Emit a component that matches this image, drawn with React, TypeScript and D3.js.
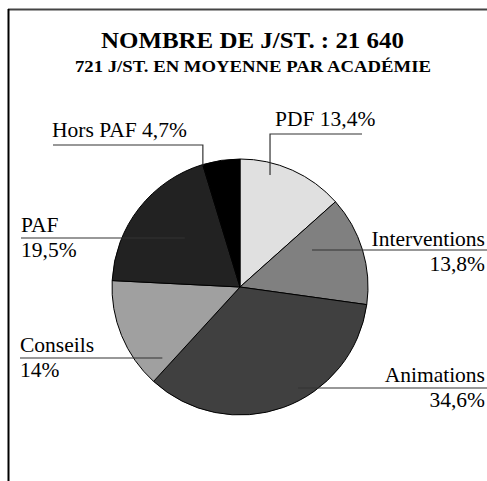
import React from 'react';
import * as d3 from 'd3';

const categories = ['PDF', 'Interventions', 'Animations', 'Conseils', 'PAF', 'Hors PAF'];
const values = [13.4, 13.8, 34.6, 14, 19.5, 4.7];
const valueLabels = ['13,4%', '13,8%', '34,6%', '14%', '19,5%', '4,7%'];
const colors = ['#e0e0e0', '#808080', '#404040', '#a0a0a0', '#222222', '#000000'];

const title = 'NOMBRE DE J/ST. : 21 640';
const subtitle = '721 J/ST. EN MOYENNE PAR ACADÉMIE';

const W = 487;
const H = 481;
const cx = 240;
const cy = 287;
const R = 128;
const FONT = 'Times New Roman, Liberation Serif, serif';
const LABEL_SIZE = 21.5;

// label layout: anchor inside the slice (polar, deg from north / radius), then text placement
type Lab = { ang: number; r: number; kind: 'up' | 'left' | 'right'; tx: number; ty: number; ly: number; lx?: number };
const layout: Lab[] = [
  { ang: 15, r: 116, kind: 'up', tx: 275, ty: 126, ly: 134, lx: 362 },
  { ang: 62.8, r: 81, kind: 'right', tx: 485, ty: 246, ly: 250 },
  { ang: 150, r: 116, kind: 'right', tx: 485, ty: 382, ly: 388 },
  { ang: 227.7, r: 105, kind: 'left', tx: 20, ty: 352, ly: 358 },
  { ang: 311.7, r: 74, kind: 'left', tx: 21, ty: 232, ly: 238 },
  { ang: 343, r: 127, kind: 'up', tx: 52, ty: 137, ly: 145, lx: 53 },
];

export default function App() {
  const pie = d3.pie<number>().sort(null).value(d => d)(values);
  const arc = d3.arc<d3.PieArcDatum<number>>().innerRadius(0).outerRadius(R);
  const txt = { fontFamily: FONT };

  return (
    <svg width={W} height={H} style={{ position: 'absolute', left: 0, top: 0, background: '#fff', fontFamily: FONT }}>
      {/* frame */}
      <line x1={8} y1={9.5} x2={W} y2={9.5} stroke="#444" strokeWidth={2} />
      <line x1={8.5} y1={9} x2={8.5} y2={H} stroke="#000" strokeWidth={2} />

      <text x={252.5} y={48} textAnchor="middle" style={txt} fontWeight="bold" fontSize={23}
        textLength={303} lengthAdjust="spacingAndGlyphs">{title}</text>
      <text x={253} y={72} textAnchor="middle" style={txt} fontWeight="bold" fontSize={17}
        textLength={356} lengthAdjust="spacingAndGlyphs">{subtitle}</text>

      <g transform={`translate(${cx},${cy})`}>
        {pie.map((p, i) => (
          <path key={i} d={arc(p) || ''} fill={colors[i]} stroke="#000" strokeWidth={1} />
        ))}
      </g>

      {layout.map((l, i) => {
        const a = (l.ang * Math.PI) / 180;
        const ax = cx + Math.sin(a) * l.r;
        const ay = cy - Math.cos(a) * l.r;
        if (l.kind === 'up') {
          return (
            <g key={i}>
              <polyline points={`${ax},${ay} ${ax},${l.ly} ${l.lx},${l.ly}`} fill="none" stroke="#333" strokeWidth={1.2} />
              <text x={l.tx} y={l.ty} style={txt} fontSize={LABEL_SIZE}>{`${categories[i]} ${valueLabels[i]}`}</text>
            </g>
          );
        }
        const end = l.kind === 'left' ? l.tx : W;
        const anchor = l.kind === 'left' ? 'start' : 'end';
        return (
          <g key={i}>
            <line x1={ax} y1={l.ly} x2={end} y2={l.ly} stroke="#333" strokeWidth={1.2} />
            <text x={l.tx} y={l.ty} textAnchor={anchor} style={txt} fontSize={LABEL_SIZE}>{categories[i]}</text>
            <text x={l.tx} y={l.ty + 25} textAnchor={anchor} style={txt} fontSize={LABEL_SIZE}>{valueLabels[i]}</text>
          </g>
        );
      })}
    </svg>
  );
}
